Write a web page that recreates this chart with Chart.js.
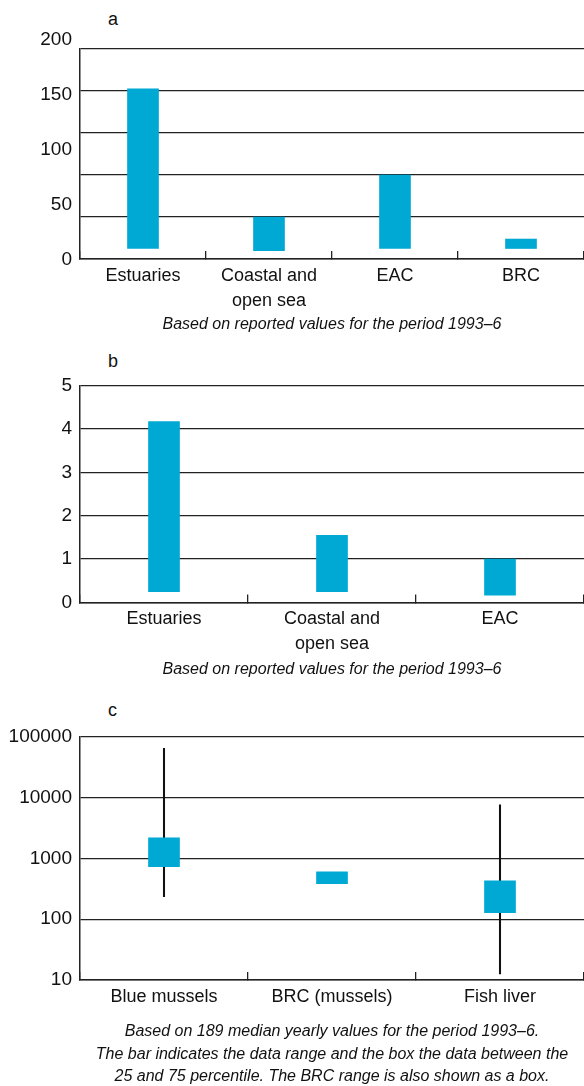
<!DOCTYPE html>
<html>
<head>
<meta charset="utf-8">
<script src="https://cdn.jsdelivr.net/npm/chart.js@4"></script>
<style>
  html, body { margin: 0; padding: 0; background: #fff; }
  body { width: 584px; height: 1086px; position: relative; overflow: hidden;
         font-family: 'Liberation Sans', Arial, sans-serif; color: #111; }
  canvas { position: absolute; left: 0; }
  .letter { position: absolute; left: 108px; font-size: 18px; }
  .caption { position: absolute; left: 80px; width: 504px; text-align: center;
             font-style: italic; font-size: 16px; line-height: 22.5px; }
</style>
</head>
<body>
<div class="letter" style="top:9px">a</div>
<canvas id="chartA" width="584" height="320" style="top:0"></canvas>
<div class="caption" style="top:313px">Based on reported values for the period 1993–6</div>

<div class="letter" style="top:351px">b</div>
<canvas id="chartB" width="584" height="320" style="top:340px"></canvas>
<div class="caption" style="top:658px">Based on reported values for the period 1993–6</div>

<div class="letter" style="top:700px">c</div>
<canvas id="chartC" width="584" height="330" style="top:690px"></canvas>
<div class="caption" style="top:1020px">Based on 189 median yearly values for the period 1993–6.<br>The bar indicates the data range and the box the data between the<br>25 and 75 percentile. The BRC range is also shown as a box.</div>

<script>
// panel a
const catsA = ['Estuaries', ['Coastal and', 'open sea'], 'EAC', 'BRC'];
const lowA = [10, 8, 10, 10];
const highA = [162, 40, 80, 19];
const gridA = [0, 40, 80, 120, 160, 200];
const ticksA = [0, 50, 100, 150, 200];

// panel b
const catsB = ['Estuaries', ['Coastal and', 'open sea'], 'EAC'];
const lowB = [0.25, 0.25, 0.17];
const highB = [4.17, 1.55, 1.0];
const ticksB = [0, 1, 2, 3, 4, 5];

// panel c (log scale)
const catsC = ['Blue mussels', 'BRC (mussels)', 'Fish liver'];
const boxLowC = [730, 385, 128];
const boxHighC = [2170, 600, 425];
const rangeLowC = [234, null, 12.6];
const rangeHighC = [64600, null, 7550];
const ticksC = [10, 100, 1000, 10000, 100000];

const BAR = '#00a8d4';
const LINE = '#222';
const tickFont = { family: "'Liberation Sans', Arial, sans-serif", size: 19 };
const catFont = { family: "'Liberation Sans', Arial, sans-serif", size: 18, lineHeight: 25 / 18 };

const pairs = (lo, hi) => lo.map((v, i) => (v == null ? null : [v, hi[i]]));

function xAxis(h) {
  return {
    position: 'bottom',
    offset: true,
    grid: { display: true, drawOnChartArea: false, offset: true, tickLength: -8, color: LINE, lineWidth: 1.3 },
    border: { display: true, color: LINE, width: 1.5 },
    ticks: { color: '#111', font: catFont, padding: 12.5, maxRotation: 0, autoSkip: false },
    afterFit: s => { s.height = h; }
  };
}

function baseOpts(padTop) {
  return {
    responsive: false,
    animation: false,
    layout: { padding: { top: padTop, right: 0, bottom: 0, left: 0 } },
    plugins: { legend: { display: false }, tooltip: { enabled: false } }
  };
}

// a: grid every 40, printed scale every 50 and a little wider than the grid
new Chart(document.getElementById('chartA'), {
  type: 'bar',
  data: {
    labels: catsA,
    datasets: [{ data: pairs(lowA, highA), backgroundColor: BAR, barThickness: 31 }]
  },
  options: Object.assign(baseOpts(49), {
    scales: {
      x: xAxis(61),
      y: {
        min: 0, max: 200, weight: 0,
        afterBuildTicks: s => { s.ticks = gridA.map(v => ({ value: v })); },
        grid: { color: LINE, lineWidth: 1.3, drawTicks: false },
        border: { display: true, color: LINE, width: 1.5 },
        ticks: { display: false },
        afterFit: s => { s.width = 0; }
      },
      yLabels: {
        position: 'left', weight: 1, min: 1, max: 192,
        afterBuildTicks: s => { s.ticks = ticksA.map(v => ({ value: v })); },
        grid: { display: false, drawTicks: false },
        border: { display: false },
        ticks: { color: '#111', font: tickFont, padding: 8 },
        afterFit: s => { s.width = 80; }
      }
    }
  })
});

// b
new Chart(document.getElementById('chartB'), {
  type: 'bar',
  data: {
    labels: catsB,
    datasets: [{ data: pairs(lowB, highB), backgroundColor: BAR, barThickness: 31 }]
  },
  options: Object.assign(baseOpts(45.5), {
    scales: {
      x: xAxis(57.5),
      y: {
        min: 0, max: 5,
        afterBuildTicks: s => { s.ticks = ticksB.map(v => ({ value: v })); },
        grid: { color: LINE, lineWidth: 1.3, drawTicks: false },
        border: { display: true, color: LINE, width: 1.5 },
        ticks: { color: '#111', font: tickFont, padding: 8 },
        afterFit: s => { s.width = 80; }
      }
    }
  })
});

// c: boxes (25-75 percentile) over thin range bars
new Chart(document.getElementById('chartC'), {
  type: 'bar',
  data: {
    labels: catsC,
    datasets: [
      { data: pairs(boxLowC, boxHighC), backgroundColor: BAR, barThickness: 31, grouped: false, order: 0 },
      { data: pairs(rangeLowC, rangeHighC), backgroundColor: '#111', barThickness: 1.4, grouped: false, order: 1 }
    ]
  },
  options: Object.assign(baseOpts(46.7), {
    scales: {
      x: xAxis(40),
      y: {
        type: 'logarithmic', min: 10, max: 100000,
        afterBuildTicks: s => { s.ticks = ticksC.map(v => ({ value: v })); },
        grid: { color: LINE, lineWidth: 1.3, drawTicks: false },
        border: { display: true, color: LINE, width: 1.5 },
        ticks: { color: '#111', font: tickFont, padding: 8, callback: v => String(v) },
        afterFit: s => { s.width = 80; }
      }
    }
  })
});
</script>
</body>
</html>
